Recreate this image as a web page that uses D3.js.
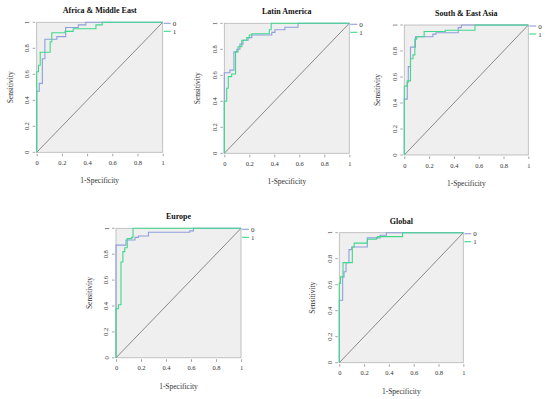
<!DOCTYPE html>
<html lang="en">
<head>
<meta charset="UTF-8">
<title>ROC curves</title>
<script src="https://cdn.jsdelivr.net/npm/d3@7"></script>
<style>
  body { margin: 0; background: #fff; }
  text { font-family: "Liberation Serif", "DejaVu Serif", serif; fill: #333; }
</style>
</head>
<body>
<svg id="chart" width="550" height="399"></svg>
<script>
// region titles
const regions = ["Africa & Middle East", "Latin America", "South & East Asia", "Europe", "Global"];
const tickValues = [0, 0.2, 0.4, 0.6, 0.8, 1];
const tickLabels = ["0", "0.2", "0.4", "0.6", "0.8", "1"];
const classes = ["0", "1"];

// ROC points [1-specificity, sensitivity], class 0 and class 1
const africa0 = [[0,0],[0,0.47],[0.02,0.53],[0.045,0.72],[0.065,0.87],[0.16,0.89],[0.23,0.96],[0.33,0.98],[0.39,1],[1,1]];
const africa1 = [[0,0],[0,0.62],[0.014,0.67],[0.028,0.77],[0.107,0.85],[0.12,0.92],[0.225,0.93],[0.29,0.95],[0.47,0.98],[0.52,1],[1,1]];
const latin0 = [[0,0],[0,0.62],[0.045,0.64],[0.077,0.78],[0.1,0.8],[0.125,0.84],[0.15,0.87],[0.19,0.89],[0.22,0.91],[0.38,0.93],[0.405,0.95],[0.485,0.97],[0.59,1],[1,1]];
const latin1 = [[0,0],[0,0.4],[0.019,0.5],[0.032,0.59],[0.059,0.61],[0.09,0.78],[0.11,0.82],[0.14,0.87],[0.18,0.89],[0.2,0.91],[0.22,0.92],[0.36,0.95],[0.375,1],[1,1]];
const asia0 = [[0,0],[0,0.43],[0.024,0.56],[0.032,0.68],[0.05,0.83],[0.09,0.91],[0.23,0.93],[0.255,0.94],[0.435,0.98],[0.46,1],[1,1]];
const asia1 = [[0,0],[0,0.53],[0.024,0.57],[0.05,0.74],[0.07,0.77],[0.085,0.89],[0.1,0.91],[0.16,0.95],[0.33,0.96],[0.57,1],[1,1]];
const europe0 = [[0,0],[0,0.87],[0.08,0.91],[0.152,0.93],[0.18,0.94],[0.26,0.97],[0.59,0.98],[0.62,1],[1,1]];
const europe1 = [[0,0],[0,0.38],[0.02,0.41],[0.04,0.74],[0.055,0.82],[0.07,0.85],[0.09,0.92],[0.125,0.93],[0.136,1],[1,1]];
const global0 = [[0,0],[0,0.48],[0.027,0.66],[0.038,0.7],[0.054,0.77],[0.078,0.87],[0.1,0.89],[0.226,0.96],[0.33,0.98],[0.38,1],[1,1]];
const global1 = [[0,0],[0,0.61],[0.01,0.66],[0.03,0.77],[0.105,0.89],[0.12,0.92],[0.226,0.95],[0.3,0.96],[0.31,0.97],[0.51,1],[1,1]];

const curves = [[africa0, africa1], [latin0, latin1], [asia0, asia1], [europe0, europe1], [global0, global1]];

// plot frames (left, top, width, height)
const layout = [
  {x: 36.7, y: 22.3, w: 126, h: 130},
  {x: 224.3, y: 23.3, w: 125, h: 130},
  {x: 404.3, y: 25, w: 124, h: 130},
  {x: 116, y: 228.3, w: 125, h: 129.5},
  {x: 339.3, y: 232.7, w: 124, h: 130}
];
const colors = ["#8f9fdc", "#3fd98a"];

const svg = d3.select("#chart");

regions.forEach(function (name, i) {
  const L = layout[i];
  const g = svg.append("g").attr("transform", "translate(" + L.x + "," + L.y + ")");
  const x = d3.scaleLinear().domain([0, 1]).range([0, L.w]);
  const y = d3.scaleLinear().domain([0, 1]).range([L.h, 0]);

  g.append("rect").attr("width", L.w).attr("height", L.h)
    .attr("fill", "#efefef").attr("stroke", "#b5b5b5").attr("stroke-width", 0.8);

  // reference diagonal
  g.append("line").attr("x1", x(0)).attr("y1", y(0)).attr("x2", x(1)).attr("y2", y(1))
    .attr("stroke", "#444").attr("stroke-width", 0.6);

  const line = d3.line().x(d => x(d[0])).y(d => y(d[1])).curve(d3.curveStepAfter);
  curves[i].forEach(function (pts, k) {
    g.append("path").datum(pts).attr("d", line)
      .attr("fill", "none").attr("stroke", colors[k]).attr("stroke-width", 1.1);
  });

  // axes
  const xAxis = d3.axisBottom(x).tickValues(tickValues).tickFormat((d, j) => tickLabels[j])
    .tickSize(2.5).tickPadding(4);
  const gx = g.append("g").attr("transform", "translate(0," + (L.h + 1.5) + ")").call(xAxis);
  gx.select(".domain").remove();
  gx.selectAll("line").attr("stroke", "#666").attr("stroke-width", 0.6);
  gx.selectAll("text").attr("font-size", 6.5).style("fill", "#333");

  const yAxis = d3.axisLeft(y).tickValues(tickValues).tickFormat((d, j) => tickLabels[j])
    .tickSize(2.5).tickPadding(3);
  const gy = g.append("g").attr("transform", "translate(-1.5,0)").call(yAxis);
  gy.select(".domain").remove();
  gy.selectAll("line").attr("stroke", "#666").attr("stroke-width", 0.6);
  gy.selectAll("text").attr("font-size", 6.5).style("fill", "#333")
    .attr("text-anchor", "middle").attr("x", -8).attr("dy", 0)
    .attr("transform", d => "rotate(-90," + (-8) + "," + y(d) + ") translate(0,2)");
  gy.selectAll("text").attr("y", d => y(d)).attr("transform", d => "rotate(-90," + (-8) + "," + y(d) + ") translate(0,2)");
  gy.selectAll(".tick").attr("transform", null);
  gy.selectAll(".tick line").attr("y1", d => y(d)).attr("y2", d => y(d));

  // titles
  g.append("text").attr("x", L.w / 2).attr("y", -9).attr("text-anchor", "middle")
    .attr("font-size", 8).attr("font-weight", "bold").style("fill", "#111").text(name);
  g.append("text").attr("x", L.w / 2).attr("y", L.h + 31).attr("text-anchor", "middle")
    .attr("font-size", 7.5).text("1-Specificity");
  g.append("text").attr("transform", "translate(-24," + (L.h / 2) + ") rotate(-90)")
    .attr("text-anchor", "middle").attr("font-size", 7.5).text("Sensitivity");

  // legend
  classes.forEach(function (c, k) {
    const ly = 1 + k * 8;
    g.append("line").attr("x1", L.w + 1).attr("x2", L.w + 8).attr("y1", ly).attr("y2", ly)
      .attr("stroke", colors[k]).attr("stroke-width", 1.1);
    g.append("text").attr("x", L.w + 10).attr("y", ly + 2.5).attr("font-size", 7).text(c);
  });
});
</script>
</body>
</html>
